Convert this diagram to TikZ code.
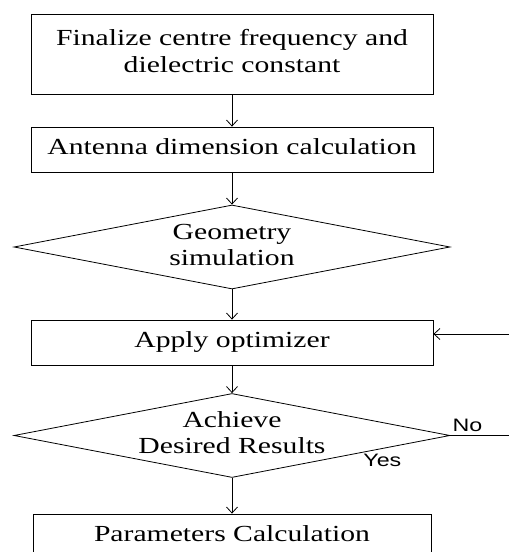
\documentclass[tikz,border=0pt]{standalone}
\usepackage{graphicx}
\usepackage{fontspec}
\setmainfont{Liberation Serif}
\newfontfamily\lblfont{Liberation Sans}
\usetikzlibrary{shapes.geometric,arrows.meta}

\newcommand{\widetext}[1]{\scalebox{1.29}[1]{\begin{tabular}{@{}c@{}}#1\end{tabular}}}

\tikzset{
    stepbox/.style = {draw=black, line width=0.8pt, rectangle, minimum width=402pt, minimum height=45pt,
        inner sep=0pt, font=\fontsize{23}{27}\selectfont},
    checkdia/.style = {draw=black, line width=0.8pt, diamond, minimum width=436pt, minimum height=84pt,
        inner sep=0pt},
    diatext/.style = {inner sep=0pt, font=\fontsize{23}{26}\selectfont},
    flowline/.style = {draw=black, line width=0.8pt},
    flowarrow/.style = {flowline, -{Straight Barb[length=6pt,width=11pt]}},
    branchlbl/.style = {inner sep=1pt, font=\lblfont\fontsize{18}{20}\selectfont}
}

\begin{document}
\begin{tikzpicture}[x=1pt,y=1pt]
    \useasboundingbox (0,0) rectangle (509,552);
    \clip (0,0) rectangle (509,552);

    \node[stepbox, minimum height=80pt] (fcbox) at (232,498) {\widetext{Finalize centre frequency and\\dielectric constant}};
    \node[stepbox] (dimbox) at (232,402.5) {\widetext{Antenna dimension calculation}};

    \node[checkdia] (geodia) at (232,305) {};
    \node[diatext] (geotext) at (geodia.center) {\widetext{Geometry\\simulation}};

    \node[stepbox] (optbox) at (232,209.5) {\widetext{Apply optimizer}};

    \node[checkdia] (resdia) at (232,116.5) {};
    \node[diatext] (restext) at (resdia.center) {\widetext{Achieve\\Desired Results}};

    \node[stepbox, minimum width=398pt] (parbox) at (232,15.5) {\widetext{Parameters Calculation}};

    % main flow
    \draw[flowarrow] (fcbox) -- (dimbox);
    \draw[flowarrow] (dimbox) -- (geodia);
    \draw[flowarrow] (geodia) -- (optbox);
    \draw[flowarrow] (optbox) -- (resdia);
    \draw[flowarrow] (resdia) -- (parbox);

    % feedback loop
    \coordinate (noend) at (509,116.5);
    \coordinate (loopin) at (509,218);
    \draw[flowline] (resdia.east) -- (noend);
    \draw[flowarrow] (loopin) -- ([yshift=8.5pt]optbox.east);

    \node[branchlbl, anchor=south west] (nolbl) at ([xshift=1pt,yshift=3pt]resdia.east) {\scalebox{1.29}[1]{No}};
    \node[branchlbl] (yeslbl) at ([xshift=-68pt,yshift=-25pt]resdia.east) {\scalebox{1.29}[1]{Yes}};
\end{tikzpicture}
\end{document}
